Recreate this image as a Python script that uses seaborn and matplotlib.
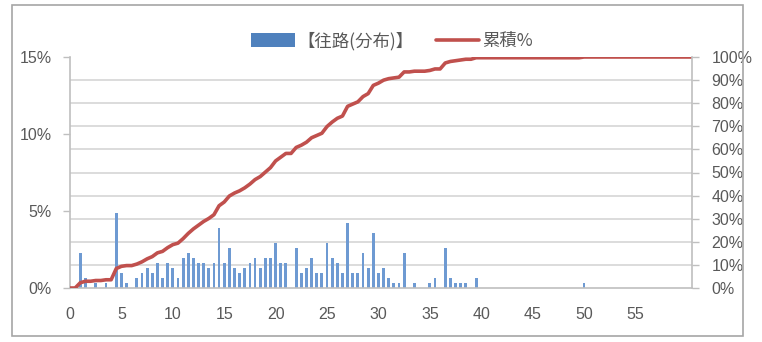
import numpy as np
import pandas as pd
import matplotlib
matplotlib.use("Agg")
import matplotlib.pyplot as plt
from matplotlib.patches import Patch, Rectangle
from matplotlib.lines import Line2D
from matplotlib.ticker import MultipleLocator, FuncFormatter
import seaborn as sns

# distance bins (0.5 step) that have at least one trip, and their share in %
distance = [1.0, 1.5, 2.5, 3.5, 4.5, 5.0, 5.5, 6.5, 7.0, 7.5,
            8.0, 8.5, 9.0, 9.5, 10.0, 10.5, 11.0, 11.5, 12.0, 12.5,
            13.0, 13.5, 14.0, 14.5, 15.0, 15.5, 16.0, 16.5, 17.0, 17.5,
            18.0, 18.5, 19.0, 19.5, 20.0, 20.5, 21.0, 22.0, 22.5, 23.0,
            23.5, 24.0, 24.5, 25.0, 25.5, 26.0, 26.5, 27.0, 27.5, 28.0,
            28.5, 29.0, 29.5, 30.0, 30.5, 31.0, 31.5, 32.0, 32.5, 33.5,
            35.0, 35.5, 36.5, 37.0, 37.5, 38.0, 38.5, 39.5, 50.0]
share_pct = [2.27, 0.65, 0.32, 0.32, 4.85, 0.97, 0.32, 0.65, 0.97, 1.29,
             0.97, 1.62, 0.65, 1.62, 1.29, 0.65, 1.94, 2.27, 1.94, 1.62,
             1.62, 1.29, 1.62, 3.88, 1.62, 2.59, 1.29, 0.97, 1.29, 1.62,
             1.94, 1.29, 1.94, 1.94, 2.91, 1.62, 1.62, 2.59, 0.97, 1.29,
             1.94, 0.97, 0.97, 2.91, 1.94, 1.62, 0.97, 4.21, 0.97, 0.97,
             2.27, 1.29, 3.56, 0.97, 1.29, 0.65, 0.32, 0.32, 2.27, 0.32,
             0.32, 0.65, 2.59, 0.65, 0.32, 0.32, 0.32, 0.65, 0.32]

x_ticks = [0, 5, 10, 15, 20, 25, 30, 35, 40, 45, 50, 55]
left_ticks = [0, 5, 10, 15]
right_ticks = [0, 10, 20, 30, 40, 50, 60, 70, 80, 90, 100]
bar_label = "【往路(分布)】"
line_label = "累積%"

# cumulative share over every 0.5 bin up to the end of the axis
grid = np.arange(0, 61, 0.5)
per_bin = pd.Series(share_pct, index=distance).reindex(grid, fill_value=0.0)
cumulative = per_bin.cumsum() / per_bin.sum() * 100

sns.set_theme(style="white")
plt.rcParams["font.family"] = ["Liberation Sans", "Noto Sans CJK JP", "DejaVu Sans"]

BLUE = "#6E9AD2"
RED = "#C0504D"
GRID = "#D9D9D9"
AXIS = "#BFBFBF"
TEXT = "#595959"

fig = plt.figure(figsize=(7.62, 3.42), dpi=100)
ax = fig.add_axes([70 / 762, 1 - 288 / 342, 622 / 762, 231 / 342])

df = pd.DataFrame({"distance": distance, "share": share_pct})
sns.barplot(data=df, x="distance", y="share", native_scale=True, width=0.55,
            color=BLUE, saturation=1, linewidth=0, ax=ax)

ax.set_xlim(0, 60.5)
ax.set_ylim(0, 15)
ax.set_xticks(x_ticks)
ax.set_xticklabels([str(t) for t in x_ticks])
ax.set_yticks(left_ticks)
ax.yaxis.set_major_formatter(FuncFormatter(lambda v, p: f"{v:.0f}%"))
ax.yaxis.set_minor_locator(MultipleLocator(1.5))
ax.grid(False)
ax.grid(which="minor", axis="y", color=GRID, linewidth=1.3)
ax.set_axisbelow(True)
ax.set_xlabel("")
ax.set_ylabel("")
ax.tick_params(axis="x", length=0, pad=14, labelsize=11.5, labelcolor=TEXT)
ax.tick_params(axis="y", which="major", length=5, width=1, color=AXIS,
               direction="out", pad=8, labelsize=11.5, labelcolor=TEXT)
ax.tick_params(axis="y", which="minor", length=0)
for side in ["top", "right"]:
    ax.spines[side].set_visible(False)
for side in ["left", "bottom"]:
    ax.spines[side].set_color(AXIS)
    ax.spines[side].set_linewidth(1.2)

ax2 = ax.twinx()
sns.lineplot(x=grid, y=cumulative.values, color=RED, linewidth=2.6, ax=ax2)
ax2.set_ylim(0, 100)
ax2.set_yticks(right_ticks)
ax2.yaxis.set_major_formatter(FuncFormatter(lambda v, p: f"{v:.0f}%"))
ax2.grid(False)
ax2.tick_params(axis="y", length=5, width=1, color=AXIS, direction="out",
                pad=9, labelsize=11.5, labelcolor=TEXT)
for side in ["top", "left", "bottom"]:
    ax2.spines[side].set_visible(False)
ax2.spines["right"].set_color(AXIS)
ax2.spines["right"].set_linewidth(1.2)
ax2.set_xlim(0, 60.5)

handles = [Patch(facecolor="#4F81BD", edgecolor="none"),
           Line2D([0], [0], color=RED, linewidth=2.6)]
fig.legend(handles, [bar_label, line_label], loc="center",
           bbox_to_anchor=(392 / 762, 1 - 41 / 342), ncol=2, frameon=False,
           handlelength=2.5, handleheight=0.85, handletextpad=0.15,
           columnspacing=1.3, prop={"family": ["Noto Sans CJK JP"], "size": 12.5},
           labelcolor=TEXT)

# chart-area border
fig.patches.append(Rectangle((12 / 762, 1 - 336 / 342), 731 / 762, 331 / 342,
                             transform=fig.transFigure, fill=False,
                             edgecolor="#A6A6A6", linewidth=1.2))

fig.savefig("out.png", dpi=100)
